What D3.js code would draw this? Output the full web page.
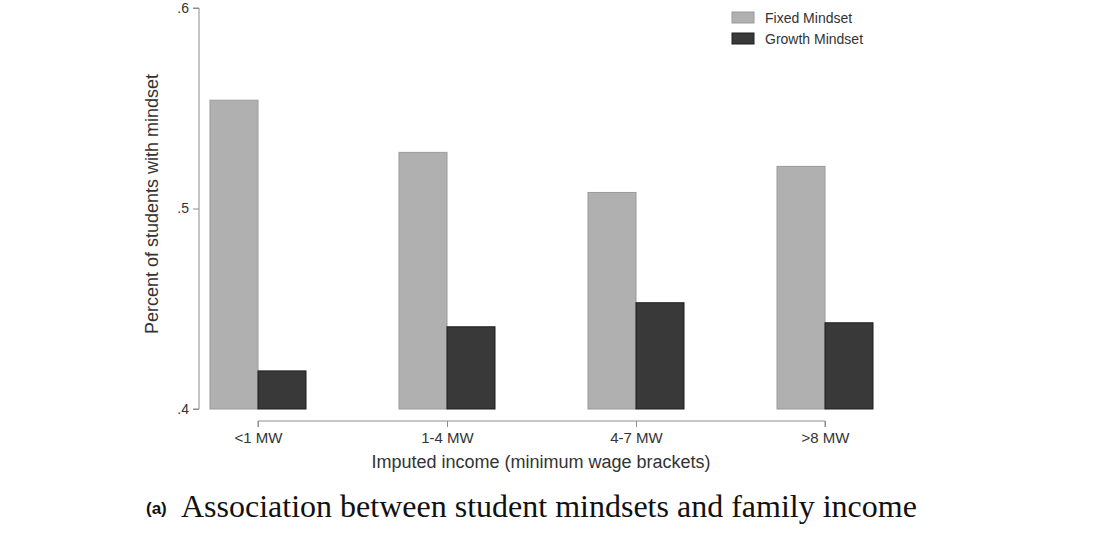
<!DOCTYPE html>
<html>
<head>
<meta charset="utf-8">
<script src="https://cdn.jsdelivr.net/npm/d3@7"></script>
<style>
    body { margin: 0; background: #fff; }
    svg { display: block; }
</style>
</head>
<body>
<svg id="chart" width="1100" height="544"></svg>
<script>
// data
const categories = ["<1 MW", "1-4 MW", "4-7 MW", ">8 MW"];
const fixedMindset = [0.554, 0.528, 0.508, 0.521];
const growthMindset = [0.419, 0.441, 0.453, 0.443];
const seriesNames = ["Fixed Mindset", "Growth Mindset"];
const yTicks = [0.4, 0.5, 0.6];

const svg = d3.select("#chart");
const sans = "'Liberation Sans', Arial, sans-serif";
const colors = {fill: ["#b0b0b0", "#393939"], stroke: ["#9a9a9a", "#1e1e1e"]};

const yScale = d3.scaleLinear().domain([0.4, 0.6]).range([409, 8]);
const xScale = d3.scalePoint().domain(categories).range([258, 825]);
const barW = 48;

// y axis
const yAxis = d3.axisLeft(yScale)
        .tickValues(yTicks)
        .tickSize(6)
        .tickPadding(4)
        .tickFormat(d => d3.format(".1f")(d).replace(/^0/, ""));

const gy = svg.append("g")
        .attr("transform", "translate(199,0)")
        .call(yAxis);
gy.select(".domain").attr("stroke", "#8c8c8c").attr("d", "M-6,409H0V8H-6");
gy.selectAll(".tick line").attr("stroke", "#8c8c8c");
gy.selectAll(".tick text")
        .attr("font-family", sans)
        .attr("font-size", 14)
        .attr("fill", "#333");

// x axis
const xAxis = d3.axisBottom(xScale).tickSize(6).tickPadding(5);
const gx = svg.append("g")
        .attr("transform", "translate(0,421)")
        .call(xAxis);
gx.select(".domain").attr("stroke", "#8c8c8c").attr("d", "M258,6V0H825V6");
gx.selectAll(".tick line").attr("stroke", "#8c8c8c");
gx.selectAll(".tick text")
        .attr("font-family", sans)
        .attr("font-size", 15)
        .attr("fill", "#333");

// bars
const rows = categories.map((c, i) => ({cat: c, vals: [fixedMindset[i], growthMindset[i]]}));

const group = svg.selectAll(".grp")
        .data(rows)
        .enter().append("g")
        .attr("class", "grp");

group.selectAll("rect")
        .data(d => d.vals.map((v, k) => ({cat: d.cat, v: v, k: k})))
        .enter().append("rect")
        .attr("x", d => xScale(d.cat) - barW + d.k * barW)
        .attr("y", d => yScale(d.v))
        .attr("width", barW)
        .attr("height", d => yScale(0.4) - yScale(d.v))
        .attr("fill", d => colors.fill[d.k])
        .attr("stroke", d => colors.stroke[d.k])
        .attr("stroke-width", 1);

// axis titles
svg.append("text")
        .attr("x", 541)
        .attr("y", 468)
        .attr("text-anchor", "middle")
        .attr("font-family", sans)
        .attr("font-size", 18)
        .attr("fill", "#333")
        .text("Imputed income (minimum wage brackets)");

svg.append("text")
        .attr("transform", "translate(158,204) rotate(-90)")
        .attr("text-anchor", "middle")
        .attr("font-family", sans)
        .attr("font-size", 18)
        .attr("fill", "#333")
        .text("Percent of students with mindset");

// legend
const legend = svg.selectAll(".legend")
        .data(seriesNames)
        .enter().append("g")
        .attr("class", "legend")
        .attr("transform", (d, i) => `translate(732,${12 + i * 21})`);

legend.append("rect")
        .attr("width", 22)
        .attr("height", 11)
        .attr("fill", (d, i) => colors.fill[i])
        .attr("stroke", (d, i) => colors.stroke[i]);

legend.append("text")
        .attr("x", 33)
        .attr("y", 11)
        .attr("font-family", sans)
        .attr("font-size", 14)
        .attr("fill", "#333")
        .text(d => d);

// caption
svg.append("text")
        .attr("x", 146)
        .attr("y", 514)
        .attr("font-family", sans)
        .attr("font-weight", "bold")
        .attr("font-size", 17)
        .attr("fill", "#111")
        .text("(a)");

svg.append("text")
        .attr("x", 181)
        .attr("y", 517)
        .attr("font-family", "'Liberation Serif', 'Times New Roman', serif")
        .attr("font-size", 32)
        .attr("fill", "#111")
        .text("Association between student mindsets and family income");
</script>
</body>
</html>
